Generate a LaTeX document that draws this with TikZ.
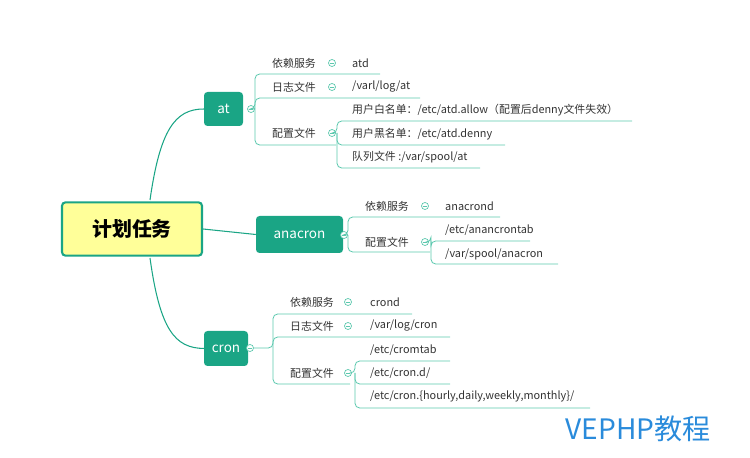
\documentclass[tikz,border=0pt]{standalone}
\usepackage{fontspec}
\setmainfont{Noto Sans CJK SC}
\usetikzlibrary{positioning}
\definecolor{teal}{HTML}{1AA585}
\definecolor{lteal}{HTML}{5CC8AE}
\definecolor{rootfill}{HTML}{FFFF99}
\definecolor{wm}{HTML}{2A8BDB}
\tikzset{
  topic/.style={fill=teal,text=white,rounded corners=3pt,font=\fontsize{11.5}{11}\selectfont,inner sep=0pt},
  leaf/.style={anchor=west,font=\fontsize{9.3}{9}\selectfont,text=black!80,inner sep=0pt},
  fold/.style={circle,draw=lteal,line width=0.6pt,minimum size=6pt,inner sep=0pt,fill=white,
    path picture={\draw[lteal,line width=0.6pt] ([xshift=-1.5pt]path picture bounding box.center) -- ([xshift=1.5pt]path picture bounding box.center);}},
  link/.style={draw=teal,line width=0.9pt},
  twig/.style={draw=lteal,line width=0.7pt,rounded corners=4pt}
}
\begin{document}
\begin{tikzpicture}[x=0.03cm,y=-0.03cm]
\useasboundingbox (0,0) rectangle (750,458);
% central topic
\node (root) at (132,229) [draw=teal,line width=1.8pt,fill=rootfill,rounded corners=3pt,
  minimum width=4.2cm,minimum height=1.6cm,font=\bfseries\fontsize{17}{17}\selectfont] {计划任务};
\node (at) at (223.5,109) [topic,minimum width=1.17cm,minimum height=1.02cm] {at};
\node (anacron) at (299.5,234.5) [topic,minimum width=2.61cm,minimum height=1.11cm] {anacron};
\node (cron) at (226,348.5) [topic,minimum width=1.32cm,minimum height=1.05cm] {cron};
\draw [link] (150,200) .. controls (160,130) and (175,109) .. (at.west);
\draw [link] (root.east) -- (anacron.west);
\draw [link] (150,258) .. controls (160,330) and (175,348) .. (cron.west);
% at
\node (atf) at (251,109) [fold] {};
\coordinate (atb) at (255,109);
\draw [twig] (atf.east) -- (atb) |- (380,74);
\draw [twig] (atb) |- (420,98);
\draw [twig] (atb) |- (336,145);
\node (at1) at (272,63) [leaf] {依赖服务};
\node (at1f) at (332,63) [fold] {};
\node (at1v) at (352,63) [leaf] {atd};
\node (at2) at (272,87) [leaf] {日志文件};
\node (at2f) at (332,87) [fold] {};
\node (at2v) at (352,87) [leaf] {/varl/log/at};
\node (at3) at (272,133) [leaf] {配置文件};
\node (at3f) at (332,133) [fold] {};
\coordinate (at3b) at (337,145);
\draw [twig] (at3f.east) -- (337,133) |- (632,121);
\draw [twig] (337,133) -- (at3b) -- (505,145);
\draw [twig] (337,133) |- (480,168);
\node (at3a) at (352,110) [leaf] {用户白名单：/etc/atd.allow（配置后denny文件失效）};
\node (at3c) at (352,134) [leaf] {用户黑名单：/etc/atd.denny};
\node (at3d) at (352,157) [leaf] {队列文件 :/var/spool/at};
% anacron
\node (anf) at (344,235) [fold] {};
\coordinate (anb) at (348,235);
\draw [twig] (anf.east) -- (anb) |- (500,217);
\draw [twig] (anb) |- (430,252);
\node (an1) at (365,206) [leaf] {依赖服务};
\node (an1f) at (425,206) [fold] {};
\node (an1v) at (445,206) [leaf] {anacrond};
\node (an2) at (365,242) [leaf] {配置文件};
\node (an2f) at (425,242) [fold] {};
\draw [twig] (an2f.east) -- (431,242) -- (431,241) -- (530,241);
\draw [twig] (431,241) |- (558,264);
\node (an2a) at (445,230) [leaf] {/etc/anancrontab};
\node (an2b) at (445,254) [leaf] {/var/spool/anacron};
% cron
\node (crf) at (250,348) [fold] {};
\coordinate (crb) at (273,348);
\draw [twig] (crf.east) -- (crb) |- (412,314);
\draw [twig] (crb) |- (450,337);
\draw [twig] (crb) |- (350,384);
\node (cr1) at (290,302) [leaf] {依赖服务};
\node (cr1f) at (348,302) [fold] {};
\node (cr1v) at (370,302) [leaf] {crond};
\node (cr2) at (290,326) [leaf] {日志文件};
\node (cr2f) at (348,326) [fold] {};
\node (cr2v) at (370,326) [leaf] {/var/log/cron};
\node (cr3) at (290,373) [leaf] {配置文件};
\node (cr3f) at (348,373) [fold] {};
\draw [twig] (cr3f.east) -- (355,373) |- (450,361);
\draw [twig] (355,373) -- (355,384) -- (450,384);
\draw [twig] (355,373) |- (590,408);
\node (cr3a) at (370,350) [leaf] {/etc/cromtab};
\node (cr3b) at (370,373) [leaf] {/etc/cron.d/};
\node (cr3c) at (370,396) [leaf] {/etc/cron.\{hourly,daily,weekly,monthly\}/};
% watermark
\node (mark) at (638,429) [text=wm,font=\fontsize{24}{24}\selectfont,inner sep=0pt] {VEPHP教程};
\end{tikzpicture}
\end{document}
